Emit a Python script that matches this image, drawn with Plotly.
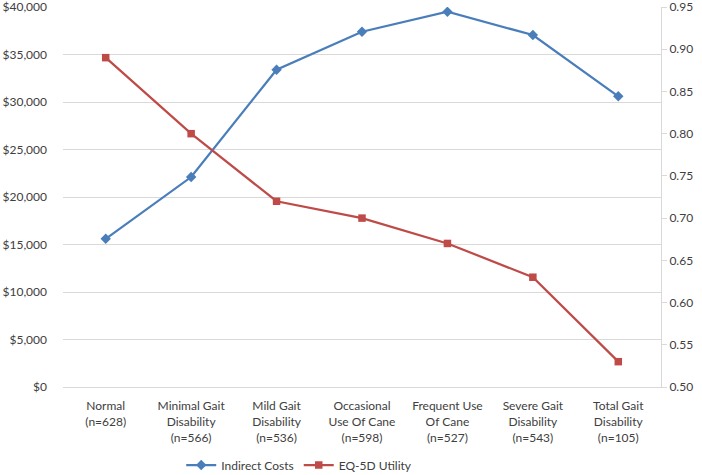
import plotly.graph_objects as go

categories = [
    "Normal<br>(n=628)",
    "Minimal Gait<br>Disability<br>(n=566)",
    "Mild Gait<br>Disability<br>(n=536)",
    "Occasional<br>Use Of Cane<br>(n=598)",
    "Frequent Use<br>Of Cane<br>(n=527)",
    "Severe Gait<br>Disability<br>(n=543)",
    "Total Gait<br>Disability<br>(n=105)",
]
indirect_costs = [15600, 22100, 33400, 37400, 39500, 37050, 30600]
eq5d_utility = [0.89, 0.80, 0.72, 0.70, 0.67, 0.63, 0.53]

cost_ticks = [0, 5000, 10000, 15000, 20000, 25000, 30000, 35000, 40000]
cost_labels = ["$0", "$5,000", "$10,000", "$15,000", "$20,000",
               "$25,000", "$30,000", "$35,000", "$40,000"]
util_ticks = [0.50, 0.55, 0.60, 0.65, 0.70, 0.75, 0.80, 0.85, 0.90, 0.95]
util_labels = ["0.50", "0.55", "0.60", "0.65", "0.70",
               "0.75", "0.80", "0.85", "0.90", "0.95"]

FONT = "Lato"
TXT = "#404040"

fig = go.Figure()
fig.add_trace(go.Scatter(
    x=categories, y=indirect_costs, name="Indirect Costs",
    mode="lines+markers",
    line=dict(color="#4A7EBB", width=2.25),
    marker=dict(symbol="diamond", size=8, color="#4A7EBB"),
    yaxis="y",
))
fig.add_trace(go.Scatter(
    x=categories, y=eq5d_utility, name="EQ-5D Utility",
    mode="lines+markers",
    line=dict(color="#BE4B48", width=2.25),
    marker=dict(symbol="square", size=7.5, color="#BE4B48"),
    yaxis="y2",
))

fig.update_layout(
    width=702, height=475,
    margin=dict(l=63, r=41, t=7, b=88, autoexpand=False),
    paper_bgcolor="white", plot_bgcolor="white",
    font=dict(family=FONT, size=12, color=TXT),
    xaxis=dict(
        type="category", range=[-0.5, 6.5], automargin=False,
        showline=True, linecolor="#D9D9D9", linewidth=1,
        showgrid=False, ticks="", tickfont=dict(size=12, color=TXT),
        ticklabelstandoff=8,
    ),
    yaxis=dict(
        range=[0, 40000.01], tickmode="array", tickvals=cost_ticks, ticktext=cost_labels,
        showgrid=True, gridcolor="#D9D9D9", gridwidth=1, automargin=False,
        zeroline=False, showline=False, ticks="", ticklabeloverflow="allow",
        tickfont=dict(size=12, color=TXT), ticklabelstandoff=15,
    ),
    yaxis2=dict(
        range=[0.5, 0.95001], tickmode="array", tickvals=util_ticks, ticktext=util_labels,
        overlaying="y", side="right", showgrid=False, zeroline=False, automargin=False,
        showline=True, linecolor="#D9D9D9", linewidth=1, ticklabeloverflow="allow",
        ticks="outside", ticklen=5, tickcolor="#D9D9D9",
        tickfont=dict(size=12, color=TXT),
    ),
    legend=dict(
        orientation="h", x=0.395, xanchor="center",
        yref="container", y=0.021, yanchor="middle",
        font=dict(size=12, color=TXT),
        bgcolor="rgba(0,0,0,0)",
    ),
)

fig.write_html("out.html", config={"displayModeBar": False},
               post_script="document.body.style.margin='0';")
